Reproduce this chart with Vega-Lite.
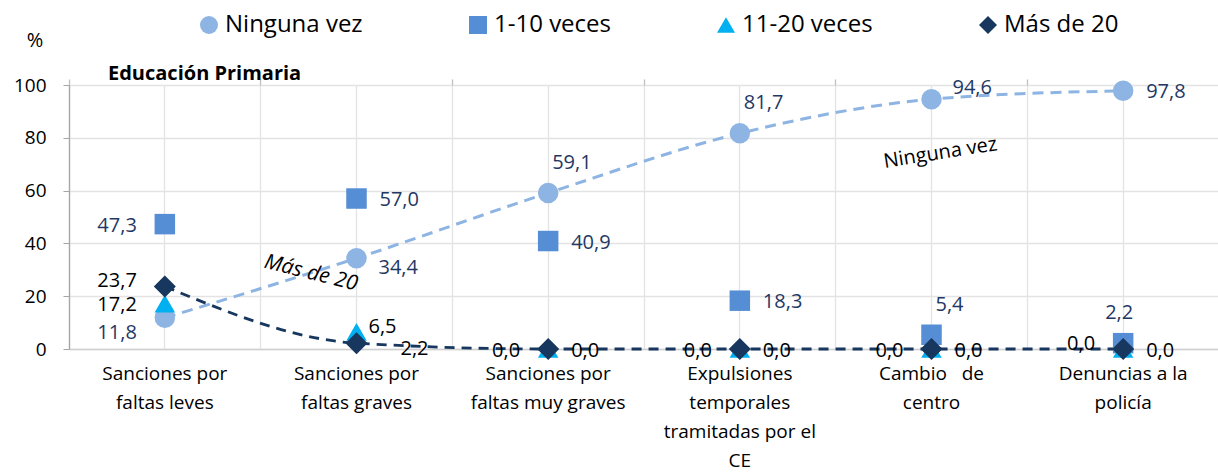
{
  "$schema": "https://vega.github.io/schema/vega-lite/v6.json",
  "width": 1150,
  "height": 264,
  "autosize": {"type": "none"},
  "padding": {"left": 69, "top": 85, "right": 0, "bottom": 124},
  "background": "white",
  "config": {
    "font": "Open Sans",
    "view": {"stroke": null},
    "locale": {"number": {"decimal": ",", "thousands": ".", "grouping": [3], "currency": ["", " €"]}},
    "legend": {
      "orient": "none",
      "legendX": 128,
      "legendY": -72,
      "direction": "horizontal",
      "labelFont": "Open Sans",
      "labelFontSize": 24,
      "labelColor": "#000000",
      "symbolSize": 324,
      "symbolStrokeWidth": 0,
      "labelOffset": 4,
      "columnPadding": 103,
      "padding": 0,
      "labelLimit": 0
    }
  },
  "title": {
    "text": "Educación Primaria",
    "anchor": "start",
    "frame": "group",
    "dx": 39,
    "dy": 91,
    "offset": 4,
    "baseline": "alphabetic",
    "fontSize": 20,
    "fontWeight": "bold",
    "font": "Open Sans",
    "color": "#000000"
  },
  "datasets": {
    "puntos": [
      {"serie": "Ninguna vez", "accion": "Sanciones por faltas leves", "valor": 11.8},
      {"serie": "Ninguna vez", "accion": "Sanciones por faltas graves", "valor": 34.4},
      {"serie": "Ninguna vez", "accion": "Sanciones por faltas muy graves", "valor": 59.1},
      {"serie": "Ninguna vez", "accion": "Expulsiones temporales tramitadas por el CE", "valor": 81.7},
      {"serie": "Ninguna vez", "accion": "Cambio de centro", "valor": 94.6},
      {"serie": "Ninguna vez", "accion": "Denuncias a la policía", "valor": 97.8},
      {"serie": "1-10 veces", "accion": "Sanciones por faltas leves", "valor": 47.3},
      {"serie": "1-10 veces", "accion": "Sanciones por faltas graves", "valor": 57.0},
      {"serie": "1-10 veces", "accion": "Sanciones por faltas muy graves", "valor": 40.9},
      {"serie": "1-10 veces", "accion": "Expulsiones temporales tramitadas por el CE", "valor": 18.3},
      {"serie": "1-10 veces", "accion": "Cambio de centro", "valor": 5.4},
      {"serie": "1-10 veces", "accion": "Denuncias a la policía", "valor": 2.2},
      {"serie": "11-20 veces", "accion": "Sanciones por faltas leves", "valor": 17.2},
      {"serie": "11-20 veces", "accion": "Sanciones por faltas graves", "valor": 6.5},
      {"serie": "11-20 veces", "accion": "Sanciones por faltas muy graves", "valor": 0.0},
      {"serie": "11-20 veces", "accion": "Expulsiones temporales tramitadas por el CE", "valor": 0.0},
      {"serie": "11-20 veces", "accion": "Cambio de centro", "valor": 0.0},
      {"serie": "11-20 veces", "accion": "Denuncias a la policía", "valor": 0.0},
      {"serie": "Más de 20", "accion": "Sanciones por faltas leves", "valor": 23.7},
      {"serie": "Más de 20", "accion": "Sanciones por faltas graves", "valor": 2.2},
      {"serie": "Más de 20", "accion": "Sanciones por faltas muy graves", "valor": 0.0},
      {"serie": "Más de 20", "accion": "Expulsiones temporales tramitadas por el CE", "valor": 0.0},
      {"serie": "Más de 20", "accion": "Cambio de centro", "valor": 0.0},
      {"serie": "Más de 20", "accion": "Denuncias a la policía", "valor": 0.0}
    ],
    "notas": [
      {"texto": "Ninguna vez", "accion": "Cambio de centro", "valor": 73.7},
      {"texto": "Más de 20", "accion": "Sanciones por faltas graves", "valor": 24.4}
    ]
  },
  "data": {"name": "puntos"},
  "resolve": {"axis": {"x": "independent"}},
  "layer": [
    {
      "transform": [{"filter": "datum.serie == 'Ninguna vez'"}],
      "mark": {"type": "line", "interpolate": "monotone", "strokeDash": [11, 7], "strokeWidth": 3, "stroke": "#8DB4E2"},
      "encoding": {
        "x": {
          "field": "accion", "type": "nominal",
          "scale": {"type": "band", "paddingInner": 0, "paddingOuter": 0,
            "domain": ["Sanciones por faltas leves", "Sanciones por faltas graves", "Sanciones por faltas muy graves", "Expulsiones temporales tramitadas por el CE", "Cambio de centro", "Denuncias a la policía"]},
          "axis": {
            "grid": true, "gridColor": "#E3E3E3", "gridWidth": 1.3, "bandPosition": 0.5,
            "ticks": false, "domain": true, "domainColor": "#D0D0D0", "domainWidth": 1.5,
            "labelExpr": "datum.value == 'Sanciones por faltas leves' ? ['Sanciones por','faltas leves'] : datum.value == 'Sanciones por faltas graves' ? ['Sanciones por','faltas graves'] : datum.value == 'Sanciones por faltas muy graves' ? ['Sanciones por','faltas muy graves'] : datum.value == 'Cambio de centro' ? ['Cambio\u00a0\u00a0\u00a0de','centro'] : datum.value == 'Denuncias a la policía' ? ['Denuncias a la','policía'] : ['Expulsiones','temporales','tramitadas por el','CE']",
            "labelAngle": 0, "labelFont": "Open Sans", "labelFontSize": 19, "labelColor": "#000000",
            "labelPadding": 15, "labelLineHeight": 29.3, "labelBaseline": "top", "labelLimit": 0,
            "labelAlign": "center", "labelOverlap": false, "title": null
          }
        },
        "y": {
          "field": "valor", "type": "quantitative",
          "scale": {"domain": [0, 100], "nice": false},
          "axis": {
            "values": [0, 20, 40, 60, 80, 100],
            "grid": true, "gridColor": "#E3E3E3", "gridWidth": 1.3,
            "domain": true, "domainColor": "#A6A6A6", "domainWidth": 1.3,
            "ticks": true, "tickSize": 6, "tickColor": "#A6A6A6",
            "labelFont": "Open Sans", "labelFontSize": 19, "labelColor": "#000000", "labelPadding": 17,
            "title": "%", "titleAngle": 0, "titleX": -34.5, "titleY": -44.5,
            "titleAlign": "center", "titleBaseline": "middle", "titleFont": "Open Sans",
            "titleFontSize": 20, "titleFontWeight": "normal", "titleColor": "#000000"
          }
        },
        "order": {"value": null}
      }
    },
    {
      "transform": [{"filter": "datum.serie == 'Más de 20'"}],
      "mark": {"type": "line", "interpolate": "monotone", "strokeDash": [10, 7], "strokeWidth": 2.8, "stroke": "#17375E"},
      "encoding": {
        "x": {"field": "accion", "type": "nominal", "axis": null},
        "y": {"field": "valor", "type": "quantitative"},
        "order": {"value": null}
      }
    },
    {
      "mark": {"type": "point", "filled": true, "opacity": 1, "strokeWidth": 0, "size": 420},
      "encoding": {
        "x": {
          "field": "accion", "type": "nominal",
          "axis": {
            "grid": true, "gridColor": "#E3E3E3", "gridWidth": 1.3, "bandPosition": 0,
            "ticks": true, "tickSize": 6, "tickColor": "#BFBFBF", "tickWidth": 1.3,
            "domain": false, "labels": false, "title": null
          }
        },
        "y": {"field": "valor", "type": "quantitative"},
        "color": {
          "field": "serie", "type": "nominal",
          "scale": {"domain": ["Ninguna vez", "1-10 veces", "11-20 veces", "Más de 20"], "range": ["#8DB4E2", "#558ED5", "#00B0F0", "#17375E"]},
          "legend": {"title": null}
        },
        "shape": {
          "field": "serie", "type": "nominal",
          "scale": {"domain": ["Ninguna vez", "1-10 veces", "11-20 veces", "Más de 20"], "range": ["circle", "square", "triangle-up", "diamond"]},
          "legend": {"title": null}
        }
      }
    },
    {
      "transform": [{"filter": "datum.serie == 'Más de 20'"}],
      "mark": {"type": "point", "filled": true, "opacity": 1, "strokeWidth": 0, "size": 484, "shape": "diamond", "color": "#17375E"},
      "encoding": {
        "x": {"field": "accion", "type": "nominal", "axis": null},
        "y": {"field": "valor", "type": "quantitative"}
      }
    },
    {
      "transform": [{"filter": "indexof(['1-10 veces|Sanciones por faltas leves', '11-20 veces|Sanciones por faltas leves', 'Más de 20|Sanciones por faltas muy graves', 'Más de 20|Expulsiones temporales tramitadas por el CE', 'Más de 20|Cambio de centro'], datum.serie + '|' + datum.accion) >= 0"}],
      "mark": {"type": "text", "align": "right", "baseline": "middle", "dx": -28, "dy": 1.5, "fontSize": 20, "font": "Open Sans"},
      "encoding": {
        "x": {"field": "accion", "type": "nominal", "axis": null},
        "y": {"field": "valor", "type": "quantitative"},
        "text": {"field": "valor", "type": "quantitative", "format": ".1f"},
        "color": {"condition": {"test": "datum.serie == 'Ninguna vez' || datum.serie == '1-10 veces'", "value": "#1F3864"}, "value": "#000000"}
      }
    },
    {
      "transform": [{"filter": "indexof(['Más de 20|Sanciones por faltas leves', 'Más de 20|Denuncias a la policía'], datum.serie + '|' + datum.accion) >= 0"}],
      "mark": {"type": "text", "align": "right", "baseline": "middle", "dx": -28, "dy": -5, "fontSize": 20, "font": "Open Sans"},
      "encoding": {
        "x": {"field": "accion", "type": "nominal", "axis": null},
        "y": {"field": "valor", "type": "quantitative"},
        "text": {"field": "valor", "type": "quantitative", "format": ".1f"},
        "color": {"value": "#000000"}
      }
    },
    {
      "transform": [{"filter": "datum.serie == 'Ninguna vez' && datum.accion == 'Sanciones por faltas leves'"}],
      "mark": {"type": "text", "align": "right", "baseline": "middle", "dx": -28, "dy": 15, "fontSize": 20, "font": "Open Sans"},
      "encoding": {
        "x": {"field": "accion", "type": "nominal", "axis": null},
        "y": {"field": "valor", "type": "quantitative"},
        "text": {"field": "valor", "type": "quantitative", "format": ".1f"},
        "color": {"value": "#1F3864"}
      }
    },
    {
      "transform": [{"filter": "indexof(['1-10 veces|Sanciones por faltas graves', '1-10 veces|Sanciones por faltas muy graves', '1-10 veces|Expulsiones temporales tramitadas por el CE', 'Ninguna vez|Denuncias a la policía', '11-20 veces|Sanciones por faltas muy graves', '11-20 veces|Expulsiones temporales tramitadas por el CE', '11-20 veces|Cambio de centro', '11-20 veces|Denuncias a la policía'], datum.serie + '|' + datum.accion) >= 0"}],
      "mark": {"type": "text", "align": "left", "baseline": "middle", "dx": 23, "dy": 1.5, "fontSize": 20, "font": "Open Sans"},
      "encoding": {
        "x": {"field": "accion", "type": "nominal", "axis": null},
        "y": {"field": "valor", "type": "quantitative"},
        "text": {"field": "valor", "type": "quantitative", "format": ".1f"},
        "color": {"condition": {"test": "datum.serie == 'Ninguna vez' || datum.serie == '1-10 veces'", "value": "#1F3864"}, "value": "#000000"}
      }
    },
    {
      "transform": [{"filter": "datum.serie == 'Ninguna vez' && datum.accion == 'Sanciones por faltas graves'"}],
      "mark": {"type": "text", "align": "left", "baseline": "middle", "dx": 22, "dy": 10, "fontSize": 20, "font": "Open Sans"},
      "encoding": {
        "x": {"field": "accion", "type": "nominal", "axis": null},
        "y": {"field": "valor", "type": "quantitative"},
        "text": {"field": "valor", "type": "quantitative", "format": ".1f"},
        "color": {"value": "#1F3864"}
      }
    },
    {
      "transform": [{"filter": "indexof(['Ninguna vez|Sanciones por faltas muy graves', 'Ninguna vez|Expulsiones temporales tramitadas por el CE', '1-10 veces|Cambio de centro'], datum.serie + '|' + datum.accion) >= 0"}],
      "mark": {"type": "text", "align": "left", "baseline": "middle", "dx": 4, "dy": -30, "fontSize": 20, "font": "Open Sans"},
      "encoding": {
        "x": {"field": "accion", "type": "nominal", "axis": null},
        "y": {"field": "valor", "type": "quantitative"},
        "text": {"field": "valor", "type": "quantitative", "format": ".1f"},
        "color": {"value": "#1F3864"}
      }
    },
    {
      "transform": [{"filter": "datum.serie == '1-10 veces' && datum.accion == 'Denuncias a la policía'"}],
      "mark": {"type": "text", "align": "center", "baseline": "middle", "dx": -4, "dy": -30, "fontSize": 20, "font": "Open Sans"},
      "encoding": {
        "x": {"field": "accion", "type": "nominal", "axis": null},
        "y": {"field": "valor", "type": "quantitative"},
        "text": {"field": "valor", "type": "quantitative", "format": ".1f"},
        "color": {"value": "#1F3864"}
      }
    },
    {
      "transform": [{"filter": "datum.serie == 'Ninguna vez' && datum.accion == 'Cambio de centro'"}],
      "mark": {"type": "text", "align": "left", "baseline": "middle", "dx": 21, "dy": -11, "fontSize": 20, "font": "Open Sans"},
      "encoding": {
        "x": {"field": "accion", "type": "nominal", "axis": null},
        "y": {"field": "valor", "type": "quantitative"},
        "text": {"field": "valor", "type": "quantitative", "format": ".1f"},
        "color": {"value": "#1F3864"}
      }
    },
    {
      "transform": [{"filter": "datum.serie == '11-20 veces' && datum.accion == 'Sanciones por faltas graves'"}],
      "mark": {"type": "text", "align": "left", "baseline": "middle", "dx": 12, "dy": -5, "fontSize": 20, "font": "Open Sans"},
      "encoding": {
        "x": {"field": "accion", "type": "nominal", "axis": null},
        "y": {"field": "valor", "type": "quantitative"},
        "text": {"field": "valor", "type": "quantitative", "format": ".1f"},
        "color": {"value": "#000000"}
      }
    },
    {
      "transform": [{"filter": "datum.serie == 'Más de 20' && datum.accion == 'Sanciones por faltas graves'"}],
      "mark": {"type": "text", "align": "left", "baseline": "middle", "dx": 44, "dy": 6, "fontSize": 20, "font": "Open Sans"},
      "encoding": {
        "x": {"field": "accion", "type": "nominal", "axis": null},
        "y": {"field": "valor", "type": "quantitative"},
        "text": {"field": "valor", "type": "quantitative", "format": ".1f"},
        "color": {"value": "#000000"}
      }
    },
    {
      "data": {"name": "notas"},
      "transform": [{"filter": "datum.texto == 'Ninguna vez'"}],
      "mark": {"type": "text", "align": "center", "baseline": "middle", "dx": 9, "angle": 351, "fontSize": 20, "font": "Open Sans", "color": "#000000"},
      "encoding": {
        "x": {"field": "accion", "type": "nominal", "axis": null},
        "y": {"field": "valor", "type": "quantitative"},
        "text": {"field": "texto", "type": "nominal"}
      }
    },
    {
      "data": {"name": "notas"},
      "transform": [{"filter": "datum.texto == 'Más de 20'"}],
      "mark": {"type": "text", "align": "center", "baseline": "middle", "dx": -47, "angle": 14, "fontSize": 21, "fontStyle": "italic", "font": "Open Sans", "color": "#000000"},
      "encoding": {
        "x": {"field": "accion", "type": "nominal", "axis": null},
        "y": {"field": "valor", "type": "quantitative"},
        "text": {"field": "texto", "type": "nominal"}
      }
    }
  ]
}
